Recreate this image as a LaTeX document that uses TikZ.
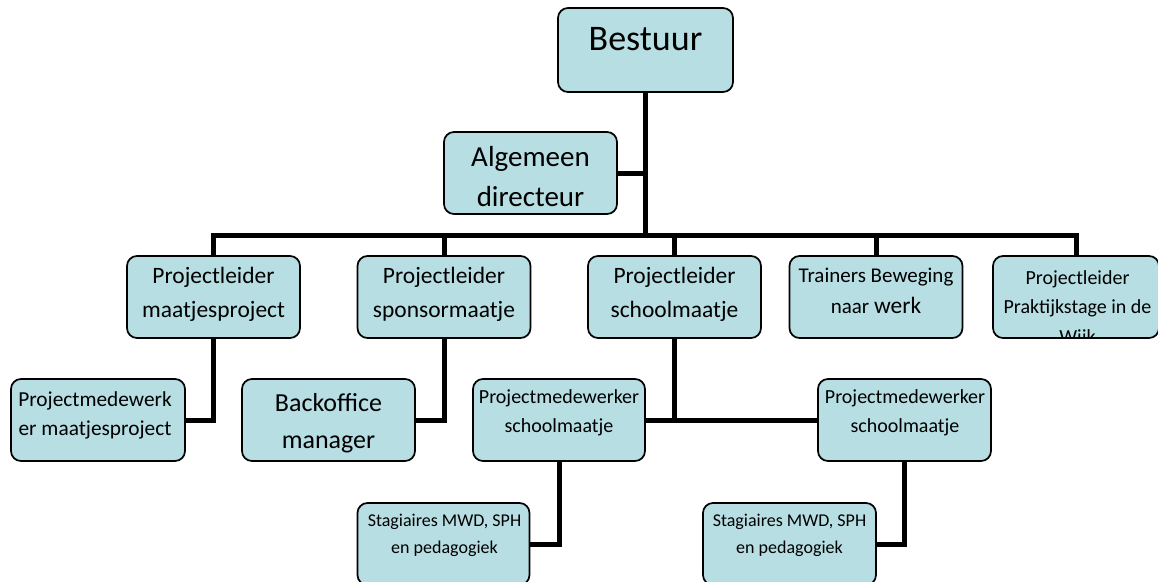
\documentclass[tikz,border=0pt]{standalone}
\usepackage{fontspec}
\setmainfont{Carlito}
\usepackage{tikz}
\definecolor{boxfill}{RGB}{183,222,227}
\def\orgbox{\node[draw=black,line width=1.3pt,fill=boxfill,rounded corners=7.5pt,inner sep=0pt,minimum width=129.75pt,minimum height=61.5pt]}
\def\orgtext{\node[align=center,inner sep=0pt,anchor=base]}
\def\orgline{\draw[line width=3.75pt]}

\begin{document}
\begin{tikzpicture}[x=0.75pt,y=-0.75pt]
\useasboundingbox (0,0) rectangle (1158,582);
% boxes
\orgbox[minimum width=131.25pt,minimum height=63pt] (bestuur) at (645.5,50) {};
\orgbox (algemeen) at (530.5,173) {};
\orgbox (leidermaatjes) at (213.5,297) {};
\orgbox (leidersponsor) at (444,297) {};
\orgbox (leiderschool) at (674.5,297) {};
\orgbox (trainers) at (876,297) {};
\orgbox[minimum width=124.5pt] (praktijk) at (1076,297) {};
\orgbox[minimum width=130.5pt] (medewerkmaatjes) at (98,420) {};
\orgbox (backoffice) at (328.5,420) {};
\orgbox[minimum width=129pt] (medewerkschoolA) at (559,420) {};
\orgbox (medewerkschoolB) at (904.5,420) {};
\orgbox[minimum width=129pt] (stagiairesA) at (443.5,544) {};
\orgbox (stagiairesB) at (789.5,544) {};
% lines
\coordinate (bar) at (645.5,235);
\orgline (bestuur.south) -- (bar);
\orgline (algemeen.east) -- (algemeen.east -| bar);
\orgline (leidermaatjes.north) |- (bar) -| (praktijk.north);
\foreach \n in {leidersponsor,leiderschool,trainers}
  \orgline (\n.north) -- (\n.north |- bar);
\orgline (leidermaatjes.south) |- (medewerkmaatjes.east);
\orgline (leidersponsor.south) |- (backoffice.east);
\orgline (leiderschool.south) -- (leiderschool.south |- medewerkschoolA.east);
\orgline (medewerkschoolA.east) -- (medewerkschoolB.west);
\orgline (medewerkschoolA.south) |- (stagiairesA.east);
\orgline (medewerkschoolB.south) |- (stagiairesB.east);
% texts (at the baseline of their last line)
\orgtext[font=\fontsize{27pt}{30pt}\selectfont] (t-bestuur) at (645.5,50) {Bestuur};
\orgtext[font=\fontsize{21.75pt}{30pt}\selectfont] (t-algemeen) at (530.5,206) {Algemeen\\directeur};
\orgtext[font=\fontsize{17.6pt}{25pt}\selectfont] (t-leidermaatjes) at (213.5,317) {Projectleider\\maatjesproject};
\orgtext[font=\fontsize{17.6pt}{25pt}\selectfont] (t-leidersponsor) at (444,317) {Projectleider\\sponsormaatje};
\orgtext[font=\fontsize{17.6pt}{25pt}\selectfont] (t-leiderschool) at (674.5,317) {Projectleider\\schoolmaatje};
\orgtext[font=\fontsize{15.75pt}{23.25pt}\selectfont] (t-trainers) at (876,313) {Trainers Beweging\\naar {\fontsize{17.6pt}{23.25pt}\selectfont werk}};
\begin{scope}
\clip[rounded corners=7.5pt] (praktijk.south west) rectangle (praktijk.north east);
\orgtext[font=\fontsize{15pt}{22pt}\selectfont] (t-praktijk) at (1077.5,343) {Projectleider\\Praktijkstage in de\\Wijk};
\end{scope}
\orgtext[font=\fontsize{16pt}{21.75pt}\selectfont] (t-medewerkmaatjes) at (95,435) {Projectmedewerk\\er maatjesproject};
\orgtext[font=\fontsize{19.5pt}{27.75pt}\selectfont] (t-backoffice) at (328.5,448) {Backoffice\\manager};
\orgtext[font=\fontsize{15pt}{21.4pt}\selectfont] (t-medewerkschoolA) at (559,432) {Projectmedewerker\\schoolmaatje};
\orgtext[font=\fontsize{15pt}{21.4pt}\selectfont] (t-medewerkschoolB) at (905,432) {Projectmedewerker\\schoolmaatje};
\orgtext[font=\fontsize{13.5pt}{20pt}\selectfont] (t-stagiairesA) at (444.5,553) {Stagiaires MWD, SPH\\en pedagogiek};
\orgtext[font=\fontsize{13.5pt}{20pt}\selectfont] (t-stagiairesB) at (789.5,553) {Stagiaires MWD, SPH\\en pedagogiek};
\end{tikzpicture}
\end{document}
